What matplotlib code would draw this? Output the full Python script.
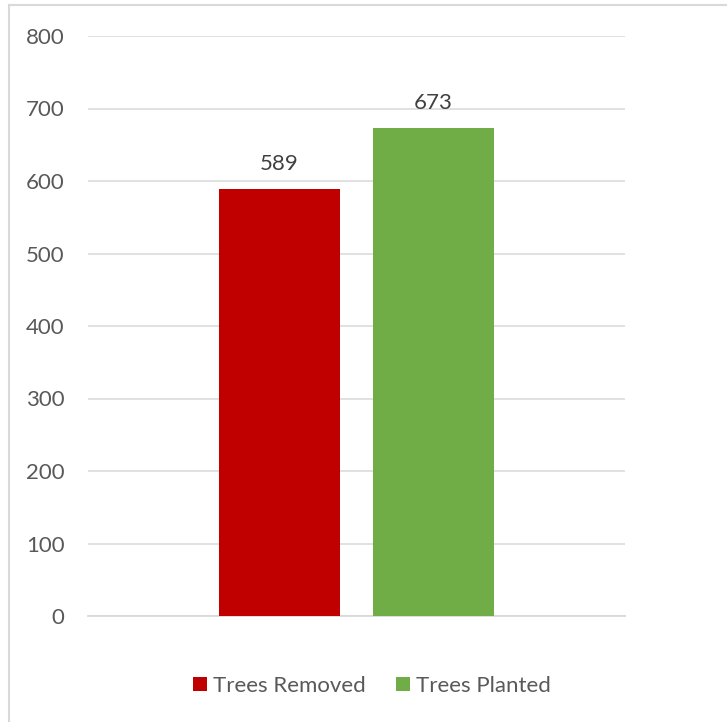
import matplotlib.pyplot as plt
from matplotlib.lines import Line2D

# data
series_names = ["Trees Removed", "Trees Planted"]
series_values = [589, 673]
series_colors = ["#c00000", "#70ad47"]
y_ticks = [0, 100, 200, 300, 400, 500, 600, 700, 800]

plt.rcParams['font.family'] = ['Lato', 'DejaVu Sans']
FS = 16

W, H = 727, 722
fig = plt.figure(figsize=(W / 100, H / 100), dpi=100)
ax = fig.add_axes([88 / W, (H - 616) / H, (625 - 88) / W, (616 - 36) / H])

bar_w = 0.227
offsets = [-0.1434, 0.1434]
for name, val, col, off in zip(series_names, series_values, series_colors, offsets):
    ax.bar(0.5 + off, val, width=bar_w, color=col, label=name, zorder=3)
    ax.annotate(str(val), (0.5 + off, val), xytext=(0, 18), textcoords='offset points',
                ha='center', va='center', fontsize=FS, color='#404040')

ax.set_xlim(0, 1)
ax.set_ylim(0, 800)
ax.set_yticks(y_ticks)
ax.set_xticks([])
ax.tick_params(axis='y', length=0, pad=17, labelsize=FS, labelcolor='#595959')
ax.grid(axis='y', color='#d9d9d9', linewidth=1.1, zorder=0)
for s in ['top', 'right', 'left']:
    ax.spines[s].set_visible(False)
ax.spines['bottom'].set_color('#d9d9d9')
ax.spines['bottom'].set_linewidth(1.3)

leg = fig.legend(loc='center', bbox_to_anchor=(372 / W, (H - 686) / H), ncol=2,
                 frameon=False, fontsize=FS, handlelength=0.63, handleheight=0.63,
                 handletextpad=0.27, columnspacing=1.35, borderpad=0)
for t in leg.get_texts():
    t.set_color('#595959')

# chart area border (left and top edges visible)
fig.add_artist(Line2D([9 / W, 9 / W], [0, 1 - 5 / H], transform=fig.transFigure,
                      color='#d9d9d9', linewidth=1.5))
fig.add_artist(Line2D([9 / W, 1], [1 - 5 / H, 1 - 5 / H], transform=fig.transFigure,
                      color='#d9d9d9', linewidth=1.5))

fig.savefig('out.png', dpi=100)
